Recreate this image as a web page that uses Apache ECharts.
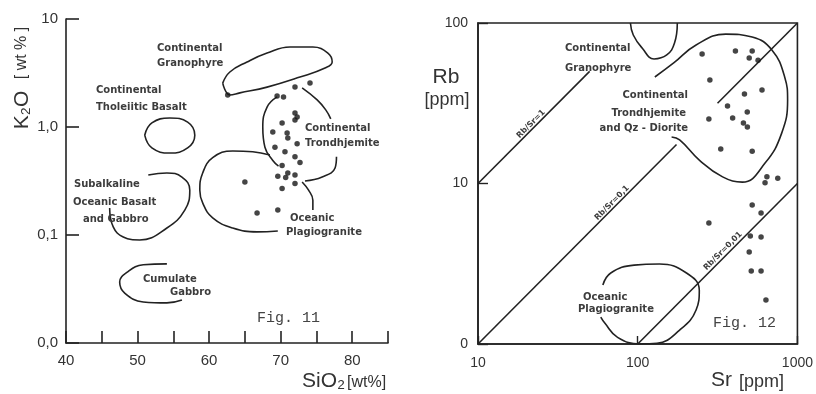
<!DOCTYPE html>
<html>
<head>
<meta charset="utf-8">
<script src="https://cdn.jsdelivr.net/npm/echarts@6/dist/echarts.min.js"></script>
<style>
  html, body { margin: 0; padding: 0; background: #fff; }
  #chart { width: 816px; height: 394px; }
</style>
</head>
<body>
<div id="chart"></div>
<script>
// ---- Fig. 11: K2O vs SiO2 ----
const sio2Ticks = [40, 50, 60, 70, 80];
const k2oTickLabels = ['0,0', '0,1', '1,0', '10'];
const sio2 = [62.6, 69.5, 70.4, 72.0, 74.1, 72.0, 72.3, 72.0, 70.2, 68.9, 70.9, 71.0, 72.3, 69.2,
              70.6, 72.0, 72.7, 70.2, 69.6, 70.7, 71.0, 72.0, 72.0, 70.2, 65.0, 66.7, 69.6];
const k2o  = [1.98, 1.94, 1.90, 2.34, 2.55, 1.35, 1.24, 1.16, 1.09, 0.90, 0.88, 0.79, 0.70, 0.65,
              0.59, 0.53, 0.47, 0.44, 0.35, 0.34, 0.375, 0.36, 0.30, 0.27, 0.31, 0.16, 0.17];

// field outlines of Fig. 11, [SiO2, K2O]
const granophyre11 = [[61.9, 2.55], [62.9, 3.23], [65.3, 4.0], [68.1, 4.84], [71.3, 5.5], [74.5, 5.5],
  [76.6, 4.84], [77.2, 4.0], [76.2, 3.52], [72.7, 2.9], [68.1, 2.34], [64.3, 2.07], [62.9, 1.98], [61.9, 2.55]];
const tholeiite11 = [[51.0, 0.84], [52.0, 1.09], [54.5, 1.21], [57.0, 1.11], [58.0, 0.84],
  [57.0, 0.64], [54.5, 0.574], [52.0, 0.64], [51.0, 0.84]];
const subalkaline11 = [[51.5, 0.36], [54.1, 0.375], [56.2, 0.344], [57.3, 0.26], [56.6, 0.17],
  [54.1, 0.116], [50.3, 0.09], [48.0, 0.096], [46.6, 0.119], [46.1, 0.178]];
const cumulate11 = [[54.1, 0.054], [50.8, 0.053], [48.5, 0.045], [47.5, 0.0367], [48.2, 0.029],
  [50.8, 0.024], [54.1, 0.0235], [56.2, 0.025]];
const plagioMain11 = [[68.5, 0.55], [66.1, 0.59], [63.3, 0.60], [60.5, 0.52], [59.1, 0.375], [58.7, 0.26],
  [59.1, 0.198], [60.5, 0.144], [63.3, 0.116], [66.7, 0.107], [69.6, 0.109]];
const plagioEast11 = [[73.0, 0.31], [73.9, 0.26], [74.5, 0.21], [74.5, 0.17]];
const trondhWest11 = [[69.5, 1.90], [68.1, 1.53], [67.5, 1.0], [67.8, 0.65], [68.9, 0.49], [69.7, 0.435]];
const trondhEast11 = [[73.0, 2.30], [75.1, 1.78], [76.3, 1.44], [77.0, 1.19]];
const trondhSouth11 = [[77.8, 0.53], [77.6, 0.417], [75.8, 0.344], [73.4, 0.316]];

// ---- Fig. 12: Rb vs Sr ----
const srTicks = [10, 100, 1000];
const rbTickLabels = ['0', '10', '100'];
const sr = [253, 409, 521, 499, 567, 283, 466, 600, 365, 485, 279, 393, 459, 486, 331, 521,
            644, 753, 627, 521, 592, 279, 507, 592, 499, 514, 592, 635];
const rb = [64, 67, 67, 60.5, 58.7, 44.2, 36.1, 38.3, 30.4, 27.9, 25.2, 25.6, 23.8, 22.5, 16.4, 15.9,
            11.0, 10.8, 10.1, 7.35, 6.55, 5.67, 4.71, 4.64, 3.74, 2.85, 2.85, 1.88];

// Rb/Sr reference lines, [Sr, Rb]
const ratio1 = [[10, 10], [50, 50]];
const ratio01Low = [[10, 1], [175, 17.5]];
const ratio01High = [[316, 31.6], [1000, 100]];
const ratio001 = [[100, 1], [1000, 10]];

// field outlines of Fig. 12, [Sr, Rb]
const granophyre12 = [[90, 100], [93.8, 84.2], [106.6, 69.8], [126.5, 59.7], [152, 63.2], [170, 75], [177, 100]];
const trondh12 = [[128, 46.1], [168, 56.4], [232, 73], [356, 85.3], [521, 81.8], [692, 67.9], [832, 46.1],
  [868, 33.1], [797, 20.6], [627, 13.4], [452, 10.2], [340, 11.0], [243, 14.0], [183, 18.7], [163, 19.5]];
const plagio12 = [[60.5, 2.33], [67.8, 2.77], [95, 3.1], [137, 3.15], [202, 2.77], [243, 2.17], [232, 1.63],
  [183, 1.22], [132, 1.01], [103.5, 1.0], [74.8, 1.1], [62.2, 1.35], [58.7, 1.47]];

const INK = '#222';
const TEXT = '#3c3c3c';
const chart = echarts.init(document.getElementById('chart'));

function curve(data, xi, smooth) {
  return {
    type: 'line', data: data, xAxisIndex: xi, yAxisIndex: xi,
    symbol: 'none', smooth: smooth === undefined ? 0.45 : smooth, silent: true,
    lineStyle: { color: INK, width: 1.6 }, z: 3
  };
}
function dots(xs, ys, xi) {
  return {
    type: 'scatter', data: xs.map((v, i) => [v, ys[i]]), xAxisIndex: xi, yAxisIndex: xi,
    symbol: 'circle', symbolSize: 5.5, itemStyle: { color: '#161616' }, silent: true, z: 4
  };
}
function txt(text, x, y, opt) {
  opt = opt || {};
  return {
    type: 'text', x: x, y: y, rotation: opt.rot || 0, silent: true, z: 10,
    style: {
      text: text, fill: opt.color || TEXT,
      font: opt.font || 'bold 10px "DejaVu Sans"',
      align: opt.align || 'left', verticalAlign: 'middle'
    }
  };
}

const tickFont = { fontFamily: '"Liberation Sans", Arial, sans-serif', color: '#333' };
const axisLine = { show: true, lineStyle: { color: INK, width: 1.6 } };

chart.setOption({
  backgroundColor: '#fff',
  animation: false,
  grid: [
    { left: 66, top: 19, width: 322, height: 324, show: false },
    { left: 478, top: 23, width: 325, height: 321, show: true, borderColor: INK, borderWidth: 1.6, backgroundColor: 'transparent' }
  ],
  xAxis: [
    {
      gridIndex: 0, type: 'value', min: 40, max: 85, interval: 5,
      axisLine: axisLine, splitLine: { show: false },
      axisTick: { show: true, inside: true, length: 12, lineStyle: { color: INK, width: 1.6 } },
      axisLabel: Object.assign({ fontSize: 15, margin: 10,
        formatter: v => sio2Ticks.indexOf(v) >= 0 ? String(v) : '' }, tickFont)
    },
    {
      gridIndex: 1, type: 'log', logBase: 10, min: 10, max: 1000,
      axisLine: axisLine, splitLine: { show: false }, minorTick: { show: false },
      axisTick: { show: true, inside: true, length: 8, lineStyle: { color: INK, width: 1.4 } },
      axisLabel: Object.assign({ fontSize: 14, margin: 12,
        formatter: v => srTicks.indexOf(Math.round(v)) >= 0 ? String(Math.round(v)) : '' }, tickFont)
    }
  ],
  yAxis: [
    {
      gridIndex: 0, type: 'log', logBase: 10, min: 0.01, max: 10,
      axisLine: axisLine, splitLine: { show: false },
      axisTick: { show: true, inside: true, length: 13, lineStyle: { color: INK, width: 1.6 } },
      axisLabel: Object.assign({ fontSize: 15, margin: 8,
        formatter: v => k2oTickLabels[Math.round(Math.log10(v)) + 2] || '' }, tickFont)
    },
    {
      gridIndex: 1, type: 'log', logBase: 10, min: 1, max: 100,
      axisLine: axisLine, splitLine: { show: false },
      axisTick: { show: true, inside: true, length: 10, lineStyle: { color: INK, width: 1.4 } },
      axisLabel: Object.assign({ fontSize: 14, margin: 10,
        formatter: v => rbTickLabels[Math.round(Math.log10(v))] || '' }, tickFont)
    }
  ],
  series: [
    curve(granophyre11, 0), curve(tholeiite11, 0), curve(subalkaline11, 0), curve(cumulate11, 0),
    curve(plagioMain11, 0), curve(plagioEast11, 0), curve(trondhWest11, 0), curve(trondhEast11, 0),
    curve(trondhSouth11, 0),
    dots(sio2, k2o, 0),
    curve(ratio1, 1, false), curve(ratio01Low, 1, false), curve(ratio01High, 1, false), curve(ratio001, 1, false),
    curve(granophyre12, 1), curve(trondh12, 1), curve(plagio12, 1),
    dots(sr, rb, 1)
  ],
  graphic: [
    // axis titles, Fig. 11
    txt('K₂O', 22, 110, { font: '21px "Liberation Sans"', rot: Math.PI / 2, align: 'center', color: '#333' }),
    txt('[ wt % ]', 22, 53, { font: '16px "Liberation Sans"', rot: Math.PI / 2, align: 'center', color: '#333' }),
    txt('SiO₂', 302, 381, { font: '21px "Liberation Sans"', color: '#333' }),
    txt('[wt%]', 347, 383, { font: '16px "Liberation Sans"', color: '#333' }),
    // field names, Fig. 11
    txt('Continental', 157, 48), txt('Granophyre', 157, 63),
    txt('Continental', 96, 90), txt('Tholeiitic Basalt', 96, 107),
    txt('Continental', 305, 128), txt('Trondhjemite', 305, 143),
    txt('Subalkaline', 74, 184), txt('Oceanic Basalt', 73, 202), txt('and Gabbro', 83, 219),
    txt('Oceanic', 290, 218), txt('Plagiogranite', 286, 232),
    txt('Cumulate', 143, 279), txt('Gabbro', 170, 292),
    txt('Fig. 11', 257, 318, { font: '15px "Liberation Mono"', color: '#444' }),
    // axis titles, Fig. 12
    txt('Rb', 446, 77, { font: '21px "Liberation Sans"', align: 'center', color: '#333' }),
    txt('[ppm]', 447, 100, { font: '18px "Liberation Sans"', align: 'center', color: '#333' }),
    txt('Sr', 711, 380, { font: '21px "Liberation Sans"', color: '#333' }),
    txt('[ppm]', 739, 382, { font: '18px "Liberation Sans"', color: '#333' }),
    // field names and ratio lines, Fig. 12
    txt('Continental', 565, 48), txt('Granophyre', 565, 68),
    txt('Continental', 688, 95, { align: 'right' }), txt('Trondhjemite', 686, 113, { align: 'right' }),
    txt('and Qz - Diorite', 688, 128, { align: 'right' }),
    txt('Oceanic', 583, 297), txt('Plagiogranite', 578, 309),
    txt('Rb/Sr=1', 531, 124, { font: 'bold 8px "DejaVu Sans"', rot: Math.PI / 4, align: 'center' }),
    txt('Rb/Sr=0,1', 612, 203, { font: 'bold 8px "DejaVu Sans"', rot: Math.PI / 4, align: 'center' }),
    txt('Rb/Sr=0,01', 723, 251, { font: 'bold 8px "DejaVu Sans"', rot: Math.PI / 4, align: 'center' }),
    txt('Fig. 12', 713, 323, { font: '15px "Liberation Mono"', color: '#444' })
  ]
});
</script>
</body>
</html>
